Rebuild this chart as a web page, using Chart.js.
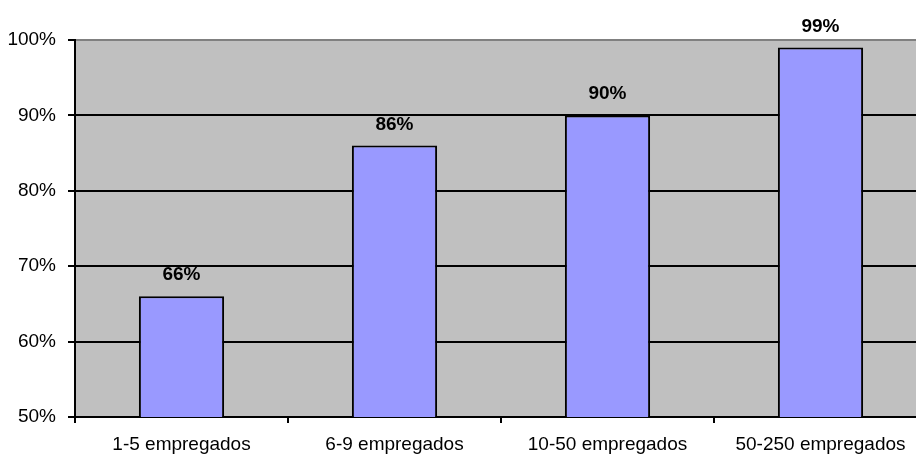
<!DOCTYPE html>
<html>
<head>
<meta charset="utf-8">
<script src="https://cdn.jsdelivr.net/npm/chart.js@4/dist/chart.umd.min.js"></script>
<style>
html,body{margin:0;padding:0;background:#fff;overflow:hidden;width:916px;height:455px;}
canvas{display:block;}
</style>
</head>
<body>
<canvas id="c" width="935" height="455"></canvas>
<script>
const categories = ["1-5 empregados", "6-9 empregados", "10-50 empregados", "50-250 empregados"];
const values = [66, 86, 90, 99];
const yMin = 50, yMax = 100, yStep = 10;

const FONT = "'Liberation Sans', Arial, sans-serif";

const bgPlugin = {
  id: 'bg',
  beforeDraw(chart) {
    const {ctx, chartArea: a} = chart;
    ctx.save();
    ctx.fillStyle = '#C0C0C0';
    ctx.fillRect(a.left, a.top, a.right - a.left, a.bottom - a.top);
    ctx.restore();
  }
};

const labelPlugin = {
  id: 'labels',
  afterDatasetsDraw(chart) {
    const {ctx} = chart;
    const meta = chart.getDatasetMeta(0);
    ctx.save();
    ctx.font = "bold 19px " + FONT;
    ctx.fillStyle = '#000';
    ctx.textAlign = 'center';
    ctx.textBaseline = 'alphabetic';
    meta.data.forEach((bar, i) => {
      ctx.fillText(values[i] + '%', bar.x, bar.y - 16);
    });
    ctx.restore();
  }
};

new Chart(document.getElementById('c'), {
  type: 'bar',
  data: {
    labels: categories,
    datasets: [{
      data: values,
      backgroundColor: '#9999FF',
      borderColor: '#000000',
      borderWidth: 2,
      borderSkipped: false,
      barPercentage: 0.4,
      categoryPercentage: 1.0
    }]
  },
  options: {
    responsive: false,
    devicePixelRatio: 1,
    animation: false,
    layout: {padding: {top: 40, right: 8, bottom: 0, left: 0}},
    plugins: {legend: {display: false}, tooltip: {enabled: false}},
    scales: {
      x: {
        offset: true,
        grid: {
          offset: true,
          drawOnChartArea: false,
          drawTicks: true,
          tickLength: 6,
          tickWidth: 2,
          lineWidth: 2,
          color: '#000'
        },
        border: {color: '#000', width: 2},
        ticks: {
          color: '#000',
          font: {family: FONT, size: 19},
          padding: 10,
          maxRotation: 0,
          autoSkip: false
        },
        afterFit(scale) { scale.height = 38; }
      },
      y: {
        min: yMin,
        max: yMax,
        grid: {
          color: (c) => (c.tick && c.tick.value === yMax) ? '#808080' : '#000',
          lineWidth: 2,
          tickLength: 7,
          tickWidth: 2,
          tickColor: '#000'
        },
        border: {color: '#000', width: 2},
        ticks: {
          stepSize: yStep,
          color: '#000',
          font: {family: FONT, size: 19},
          padding: 12,
          callback: (v) => v + '%'
        },
        afterFit(scale) { scale.width = 75; }
      }
    }
  },
  plugins: [bgPlugin, labelPlugin]
});
</script>
</body>
</html>
